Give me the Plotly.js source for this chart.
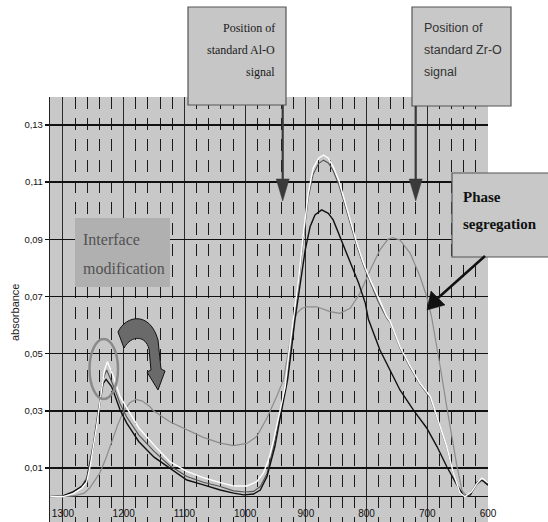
<!DOCTYPE html>
<html><head><meta charset="utf-8">
<script src="https://cdn.plot.ly/plotly-3.0.1.min.js"></script>
<style>html,body{margin:0;padding:0;background:#fff;}#chart{width:548px;height:522px;}</style>
</head><body><div id="chart"></div><script>
// ---- data (wavenumber cm-1, absorbance) ----
const grayX  = [1321,1300,1280,1265,1256,1240,1230,1220,1210,1200,1190,1180,1170,1157,1151,1124,1096,1069,1041,1019,997,981,964,948,937,928,921,915,907,899,882,860,844,827,811,794,778,765,757,745,728,712,701,693,684,676,668,660,651,643,635,627,618,607,600];
const grayY  = [0,0,0.0003,0.0012,0.003,0.008,0.013,0.019,0.025,0.030,0.0328,0.034,0.0335,0.0315,0.030,0.0262,0.0233,0.0207,0.0187,0.0178,0.0186,0.021,0.0275,0.035,0.0408,0.052,0.0605,0.0641,0.0658,0.0664,0.0664,0.0647,0.0641,0.0659,0.0711,0.0793,0.0863,0.090,0.0906,0.0898,0.0851,0.077,0.070,0.063,0.0524,0.042,0.0315,0.021,0.0105,0.0023,0,0.002,0.0047,0.0058,0.005];

const darkX  = [1321,1300,1283,1269,1261,1250,1242,1234,1228,1220,1214,1206,1195,1175,1150,1124,1096,1069,1041,1019,1000,986,975,964,953,943,934,928,921,912,904,896,888,879,871,863,855,846,838,827,816,805,794,781,767,761,745,728,712,695,682,668,657,646,638,627,618,610,602,600];
const darkY  = [0,0.0003,0.0015,0.0038,0.0065,0.0185,0.030,0.041,0.0443,0.0405,0.0372,0.0325,0.0278,0.0215,0.0158,0.0108,0.0070,0.0050,0.0035,0.0020,0.0016,0.0018,0.0035,0.0080,0.0175,0.0285,0.037,0.048,0.060,0.0745,0.0905,0.1045,0.1128,0.1165,0.1177,0.1167,0.114,0.1093,0.1036,0.0956,0.0876,0.0808,0.0752,0.0682,0.0625,0.0608,0.052,0.045,0.0392,0.0345,0.0263,0.0172,0.008,0.0011,0,0.0015,0.0043,0.0058,0.0048,0.0044];

const blackX = [1321,1300,1283,1269,1261,1250,1242,1234,1229,1220,1214,1206,1195,1175,1150,1120,1096,1070,1041,1019,1002,986,975,964,951,943,934,930,924,918,910,901,893,885,874,863,855,846,835,824,813,802,797,778,761,745,723,701,684,668,651,640,629,618,610,602,600];
const blackY = [0,0.0002,0.0017,0.0035,0.0058,0.0175,0.029,0.0395,0.041,0.0385,0.035,0.0303,0.0257,0.0192,0.0138,0.0092,0.0058,0.0042,0.0023,0.0012,0.0006,0.0009,0.0023,0.007,0.0175,0.0268,0.0361,0.041,0.051,0.0618,0.0734,0.0863,0.0944,0.0985,0.1003,0.0991,0.0968,0.0921,0.0863,0.0804,0.0746,0.0676,0.062,0.0513,0.0443,0.0373,0.0303,0.024,0.0175,0.0105,0.004,0.0003,0.0006,0.005,0.0058,0.0045,0.004];

const whiteX = [1321,1300,1283,1269,1261,1255,1245,1239,1232,1227,1217,1206,1190,1175,1150,1124,1096,1069,1041,1019,997,981,970,962,953,943,934,928,921,912,904,896,888,879,871,863,855,846,838,827,816,805,794,778,767,761,745,728,712,695,682,668,657,646,638,627,618,610,602,600];
const whiteY = [0,0,0.001,0.003,0.005,0.011,0.024,0.034,0.044,0.0472,0.042,0.035,0.0291,0.024,0.018,0.0122,0.0088,0.0066,0.0049,0.0037,0.0037,0.0052,0.0082,0.0125,0.0198,0.0303,0.0385,0.050,0.0618,0.0758,0.0921,0.1061,0.1149,0.1184,0.1195,0.1184,0.1154,0.1108,0.1049,0.0968,0.0886,0.0816,0.0758,0.0685,0.063,0.0612,0.0524,0.0455,0.0396,0.035,0.0268,0.0175,0.0082,0.0012,0,0.0017,0.0047,0.0064,0.0052,0.0048];

const xTickStart = 600, xTickStep = 100;
const yTickStart = 0.01, yTickStep = 0.02;

// ---- geometry helpers (pixel -> paper) for annotation decorations ----
const L = 50, R = 488, T = 97, B = 522;
const px = x => (x - L) / (R - L);
const py = y => (B - y) / (B - T);
function fmtPath(cmds){
  let s='';
  cmds.forEach(c=>{
    s += c[0];
    const pts=[];
    for(let i=1;i<c.length;i+=2){ pts.push(px(c[i]).toFixed(5)+','+py(c[i+1]).toFixed(5)); }
    s += pts.join(' ') + ' ';
  });
  return s + 'Z';
}

const traces = [
  {x: grayX, y: grayY, mode:'lines', line:{color:'#8c8c8c', width:1.2}, hoverinfo:'skip'},
  {x: darkX, y: darkY, mode:'lines', line:{color:'#555555', width:1.1}, hoverinfo:'skip'},
  {x: blackX, y: blackY, mode:'lines', line:{color:'#111111', width:1.4}, hoverinfo:'skip'},
  {x: whiteX, y: whiteY, mode:'lines', line:{color:'#ffffff', width:1.4}, hoverinfo:'skip'}
];

const boxLine = {color:'#555555', width:1.2};
const shapes = [
  {type:'rect', xref:'paper', yref:'paper', x0:px(75), x1:px(170), y0:py(218), y1:py(287), fillcolor:'#b0b0b0', line:{width:0}, layer:'above'},
  {type:'rect', xref:'paper', yref:'paper', x0:px(188), x1:px(286), y0:py(7), y1:py(105), fillcolor:'#c6c6c6', line:boxLine, layer:'above'},
  {type:'rect', xref:'paper', yref:'paper', x0:px(412), x1:px(511), y0:py(7), y1:py(106), fillcolor:'#c8c8c8', line:boxLine, layer:'above'},
  {type:'rect', xref:'paper', yref:'paper', x0:px(452), x1:px(562), y0:py(173), y1:py(257), fillcolor:'#c8c8c8', line:boxLine, layer:'above'},
  {type:'line', xref:'paper', yref:'paper', x0:px(282.7), x1:px(282.7), y0:py(105), y1:py(183), line:{color:'#3a3a3a', width:2.2}, layer:'above'},
  {type:'path', xref:'paper', yref:'paper', path: fmtPath([['M',276.2,179],['L',289.2,179],['L',282.7,201]]), fillcolor:'#3a3a3a', line:{color:'#3a3a3a', width:0.5}, layer:'above'},
  {type:'line', xref:'paper', yref:'paper', x0:px(415.7), x1:px(415.7), y0:py(106), y1:py(183), line:{color:'#3a3a3a', width:2.2}, layer:'above'},
  {type:'path', xref:'paper', yref:'paper', path: fmtPath([['M',409.2,179],['L',422.2,179],['L',415.7,201]]), fillcolor:'#3a3a3a', line:{color:'#3a3a3a', width:0.5}, layer:'above'},
  {type:'line', xref:'paper', yref:'paper', x0:px(485), x1:px(438), y0:py(256), y1:py(298), line:{color:'#111111', width:2.5}, layer:'above'},
  {type:'path', xref:'paper', yref:'paper', path: fmtPath([['M',431,291],['L',445,305],['L',427,310]]), fillcolor:'#111111', line:{color:'#111111', width:0.5}, layer:'above'},
  {type:'circle', xref:'paper', yref:'paper', x0:px(89.5), x1:px(118), y0:py(339), y1:py(399), line:{color:'#8a8a8a', width:2.5}, layer:'above'},
  {type:'path', xref:'paper', yref:'paper', layer:'above', fillcolor:'#6a6a6a', line:{color:'#111111', width:1},
   path: fmtPath([['M',118,332],['C',126,315, 150,311, 158,340],['L',161,369],['L',165,371],['L',158,390],['L',147,372],['L',151,370],['L',149,349],['C',146,336, 132,334, 124,348]])}
];

const serif = 'Liberation Serif, Times New Roman, serif';
const sans = 'Liberation Sans, Arial, sans-serif';
function txt(t, x, y, anchor, font, angle){
  return {text:t, xref:'paper', yref:'paper', x:px(x), y:py(y), xanchor:anchor, yanchor:'middle', showarrow:false, font:font, textangle: angle||0};
}
const alFont = {family:serif, size:12, color:'#1a1a1a'};
const zrFont = {family:sans, size:12.5, color:'#333333'};
const phFont = {family:serif, size:15, color:'#111111'};
const ifFont = {family:serif, size:16, color:'#525252'};
const annotations = [
  txt('Position of', 277, 28, 'right', alFont),
  txt('standard Al-O', 277, 50, 'right', alFont),
  txt('signal', 277, 72, 'right', alFont),
  txt('Position of', 422, 28, 'left', zrFont),
  txt('standard Zr-O', 422, 50, 'left', zrFont),
  txt('signal', 422, 72, 'left', zrFont),
  txt('<b>Phase</b>', 461, 197, 'left', phFont),
  txt('<b>segregation</b>', 461, 224, 'left', phFont),
  txt('Interface', 81, 240, 'left', ifFont),
  txt('modification', 81, 268, 'left', ifFont),
  {text:'absorbance', xref:'paper', yref:'paper', x:px(15), y:py(312), xanchor:'center', yanchor:'middle', showarrow:false, textangle:-90,
   font:{family:sans, size:11, color:'#222222'}}
];

const layout = {
  width:548, height:522,
  margin:{l:L, r:548-R, t:T, b:522-B, pad:0},
  paper_bgcolor:'#ffffff', plot_bgcolor:'#c8c8c8',
  showlegend:false,
  separators:',.',
  xaxis:{
    range:[1321.4, 600], tick0:xTickStart, dtick:xTickStep,
    showgrid:true, gridcolor:'#2a2a2a', gridwidth:1,
    zeroline:false, showline:false, ticks:'',
    ticklabelposition:'inside', ticklabeloverflow:'allow',
    tickfont:{family:sans, size:10, color:'#111111'},
    minor:{dtick:20, tick0:600, showgrid:true, gridcolor:'#1a1a1a', gridwidth:1, griddash:'12px,9px', ticks:''}
  },
  yaxis:{
    range:[-0.0089, 0.1398], tick0:yTickStart, dtick:yTickStep, tickformat:'.2f',
    showgrid:true, gridcolor:'#111111', gridwidth:1.6,
    zeroline:true, zerolinecolor:'#111111', zerolinewidth:1.6,
    showline:true, linecolor:'#222222', linewidth:1.2,
    ticks:'outside', ticklen:4, tickcolor:'#111111', tickwidth:1.5,
    tickfont:{family:sans, size:9.5, color:'#111111'}
  },
  shapes:shapes,
  annotations:annotations
};

Plotly.newPlot('chart', traces, layout, {staticPlot:true, displayModeBar:false});
</script></body></html>
